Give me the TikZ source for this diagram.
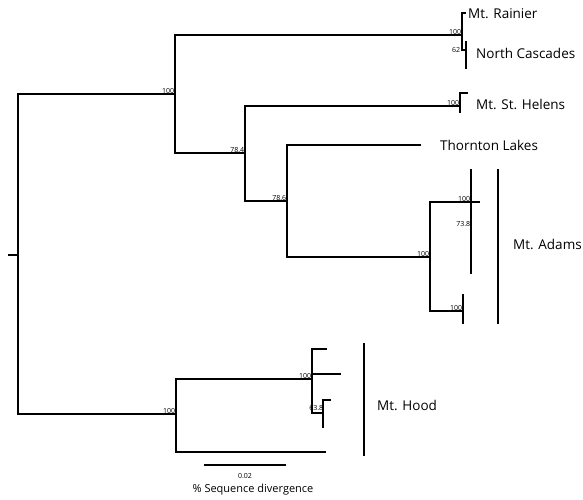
\documentclass[tikz,border=0pt]{standalone}
\usepackage{fontspec}
\setmainfont{Open Sans}
\usetikzlibrary{positioning}

\begin{document}
\begin{tikzpicture}[x=1pt, y=-1pt, line cap=rect,
  branch/.style = {line width=1.6pt},
  thinbranch/.style = {line width=1.1pt},
  boot/.style = {font=\fontsize{7}{8}\selectfont, inner sep=0.6pt, anchor=south east},
  taxon/.style = {font=\fontsize{13.5}{15}\selectfont, anchor=west, inner sep=0pt}]
\useasboundingbox (0,0) rectangle (583,500);
% branch points
\coordinate (r0) at (9,255);
\coordinate (r) at (18,255);
\coordinate (a) at (175,94);
\coordinate (rn) at (462,35);
\coordinate (rn1) at (465,13);
\coordinate (nc) at (466,50);
\coordinate (nc1) at (466,42);
\coordinate (nc2) at (466,68);
\coordinate (c) at (245,153);
\coordinate (sh) at (460,106);
\coordinate (sh1) at (467,93);
\coordinate (sh2) at (460,112);
\coordinate (d) at (287,201);
\coordinate (tl) at (420,145);
\coordinate (e) at (430,257);
\coordinate (f) at (471,202);
\coordinate (f1) at (471,170);
\coordinate (f2) at (471,273);
\coordinate (f3) at (479,202);
\coordinate (g) at (463,311);
\coordinate (g1) at (463,295);
\coordinate (g2) at (463,323);
\coordinate (h) at (176,414);
\coordinate (i) at (312,379);
\coordinate (i1) at (326,349);
\coordinate (i2) at (340,374);
\coordinate (k) at (323,413);
\coordinate (k1) at (330,400);
\coordinate (k2) at (323,427);
\coordinate (j) at (325,452);
% tree
\draw[branch] (r0) -- (r);
\draw[branch] (r) |- (a);
\draw[branch] (r) |- (h);
\draw[branch] (a) |- (rn);
\draw[branch] (a) |- (c);
\draw[thinbranch] (rn) |- (rn1);
\draw[thinbranch] (rn) |- (nc);
\draw[branch] (nc1) -- (nc2);
\draw[branch] (c) |- (sh);
\draw[branch] (c) |- (d);
\draw[branch] (sh) |- (sh1);
\draw[branch] (sh) -- (sh2);
\draw[branch] (d) |- (tl);
\draw[branch] (d) |- (e);
\draw[branch] (e) |- (f);
\draw[branch] (e) |- (g);
\draw[thinbranch] (f1) -- (f2);
\draw[branch] (f) -- (f3);
\draw[thinbranch] (g1) -- (g2);
\draw[branch] (h) |- (i);
\draw[branch] (h) |- (j);
\draw[branch] (i) |- (i1);
\draw[branch] (i) |- (k);
\draw[branch] (i |- i2) -- (i2);
\draw[branch] (k) |- (k1);
\draw[branch] (k) -- (k2);
% bootstrap values
\node[boot] (ba) at (a) {100};
\node[boot] (brn) at (rn) {100};
\node[boot, anchor=east] (bnc) at (461,50) {62};
\node[boot] (bc) at (c) {78.4};
\node[boot] (bsh) at (sh) {100};
\node[boot] (bd) at (d) {78.6};
\node[boot] (be) at (e) {100};
\node[boot] (bf) at (f) {100};
\node[boot, anchor=north east] (bf2) at (471,221) {73.8};
\node[boot] (bg) at (g) {100};
\node[boot] (bh) at (h) {100};
\node[boot] (bi) at (i) {100};
\node[boot, anchor=east] (bk) at (324,408) {63.8};
% taxa
\node[taxon] (rainier) at (468,14) {Mt. Rainier};
\node[taxon] (cascades) at (476,53) {North Cascades};
\node[taxon] (helens) at (476,104) {Mt. St. Helens};
\node[taxon] (thornton) at (440,145) {Thornton Lakes};
\node[taxon] (adams) at (513,244) {Mt. Adams};
\node[taxon] (hood) at (377,405) {Mt. Hood};
% clade bars
\coordinate (ad1) at (498,170);
\coordinate (ad2) at (498,323);
\coordinate (ho1) at (364,344);
\coordinate (ho2) at (364,455);
\draw[branch] (ad1) -- (ad2);
\draw[branch] (ho1) -- (ho2);
% scale bar
\coordinate (s1) at (205,465);
\coordinate (s2) at (285,465);
\draw[thinbranch] (s1) -- (s2);
\node[boot, anchor=center] (sl) at (245,476) {0.02};
\node[font=\fontsize{11}{13}\selectfont, inner sep=0pt] (sd) at (253,490) {\% Sequence divergence};
\end{tikzpicture}
\end{document}
